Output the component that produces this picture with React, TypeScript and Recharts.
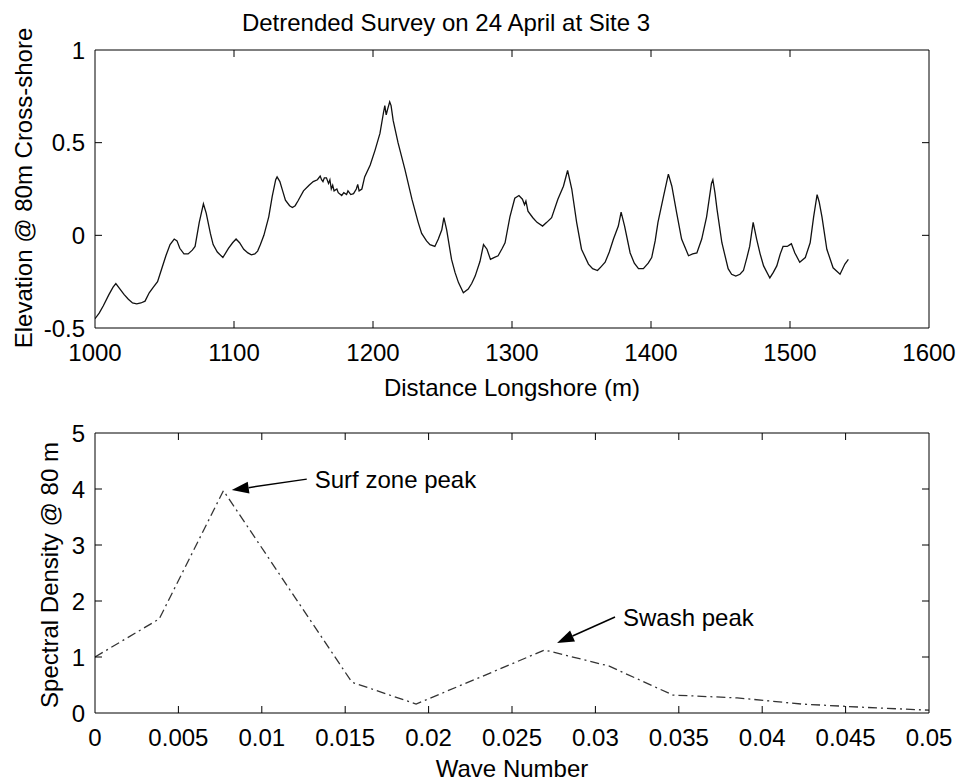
import React from 'react';
import { LineChart, Line, XAxis, YAxis, ReferenceDot } from 'recharts';

const FONT = "'Liberation Sans', Arial, Helvetica, sans-serif";

// ---- Top panel: detrended survey ----
const distance = [
  1000, 1003, 1006, 1010, 1013, 1015, 1018, 1021, 1024, 1027, 1030, 1033, 1036, 1039, 1042, 1045, 1048, 1051, 1054, 1057,
  1059, 1061, 1064, 1067, 1070, 1072, 1075, 1078, 1080, 1083, 1085, 1088, 1092, 1096, 1099, 1101.5, 1104, 1107, 1110, 1112.5,
  1115, 1117, 1119, 1121.5, 1125, 1127.5, 1130, 1131, 1133, 1135, 1137, 1140, 1142, 1144, 1146, 1150, 1154, 1157, 1160, 1162,
  1163, 1164, 1165, 1166.5, 1168, 1169, 1170, 1171, 1172, 1174, 1175, 1177.5, 1179, 1181, 1182, 1184, 1186, 1188, 1189, 1190,
  1192, 1194, 1198, 1201.5, 1205, 1207.5, 1208.5, 1209.5, 1210.5, 1212, 1213, 1214.5, 1218, 1223, 1228, 1232.5, 1235, 1238.5, 1241, 1244.5,
  1247, 1249.5, 1251, 1253, 1256.5, 1259, 1261.5, 1265, 1268.5, 1271, 1273.5, 1277, 1279.5, 1282, 1284.5, 1287, 1290, 1293, 1295, 1298.5,
  1302, 1305, 1307.5, 1309, 1310, 1311.5, 1315, 1318, 1322, 1325, 1328.5, 1333, 1337, 1340, 1343, 1346.5, 1350, 1355, 1358, 1361.5,
  1364, 1367, 1370, 1373, 1376.5, 1378.5, 1381, 1385, 1388, 1391, 1394.5, 1398, 1400.5, 1403, 1405, 1409, 1412.5, 1415, 1418.5, 1422,
  1427, 1430, 1433, 1436.5, 1440, 1443.5, 1444.5, 1446, 1447.5, 1451, 1455.5, 1458, 1461, 1464, 1466.5, 1469, 1471, 1473.5, 1476, 1478.5,
  1481, 1485.5, 1488, 1490.5, 1493, 1495, 1498, 1500, 1501, 1503.5, 1507, 1511, 1514.5, 1517, 1519.5, 1521, 1523, 1526.5, 1531, 1536,
  1539.5, 1542,
];
const elevation = [
  -0.45, -0.42, -0.38, -0.32, -0.28, -0.26, -0.29, -0.32, -0.345, -0.365, -0.37, -0.365, -0.355, -0.31, -0.28, -0.25, -0.18, -0.11, -0.05, -0.02,
  -0.03, -0.07, -0.1, -0.1, -0.08, -0.06, 0.07, 0.17, 0.12, 0.01, -0.05, -0.09, -0.12, -0.07, -0.04, -0.02, -0.04, -0.075, -0.095, -0.105,
  -0.1, -0.085, -0.05, 0.0, 0.1, 0.21, 0.3, 0.315, 0.29, 0.24, 0.19, 0.16, 0.15, 0.16, 0.185, 0.24, 0.27, 0.29, 0.3, 0.32,
  0.3, 0.29, 0.31, 0.31, 0.28, 0.3, 0.25, 0.27, 0.24, 0.25, 0.23, 0.215, 0.23, 0.22, 0.24, 0.22, 0.225, 0.25, 0.275, 0.24,
  0.25, 0.315, 0.38, 0.46, 0.55, 0.66, 0.7, 0.65, 0.68, 0.72, 0.7, 0.62, 0.5, 0.355, 0.195, 0.07, 0.01, -0.03, -0.05, -0.06,
  -0.02, 0.03, 0.095, 0.03, -0.13, -0.2, -0.255, -0.31, -0.29, -0.26, -0.22, -0.14, -0.05, -0.075, -0.13, -0.12, -0.11, -0.07, -0.04, 0.1,
  0.2, 0.215, 0.195, 0.165, 0.185, 0.13, 0.095, 0.07, 0.05, 0.07, 0.095, 0.195, 0.265, 0.35, 0.25, 0.07, -0.075, -0.155, -0.18, -0.19,
  -0.17, -0.145, -0.09, -0.02, 0.05, 0.125, 0.05, -0.095, -0.15, -0.18, -0.18, -0.15, -0.12, -0.03, 0.07, 0.21, 0.33, 0.265, 0.12, -0.02,
  -0.11, -0.1, -0.095, -0.02, 0.1, 0.28, 0.3, 0.23, 0.14, -0.04, -0.18, -0.21, -0.22, -0.21, -0.19, -0.12, -0.06, 0.07, -0.02, -0.1,
  -0.165, -0.23, -0.2, -0.165, -0.1, -0.06, -0.06, -0.05, -0.045, -0.095, -0.145, -0.12, -0.04, 0.1, 0.22, 0.18, 0.1, -0.075, -0.175, -0.21,
  -0.155, -0.13,
];
const distanceTicks = [1000, 1100, 1200, 1300, 1400, 1500, 1600];
const elevationTicks = [-0.5, 0, 0.5, 1];

// ---- Bottom panel: spectrum ----
const waveNumber = [0, 0.00385, 0.0077, 0.01155, 0.0154, 0.01925, 0.0231, 0.02695, 0.0308, 0.03465, 0.0385, 0.04235, 0.0462, 0.05];
const spectralDensity = [1.0, 1.68, 3.97, 2.26, 0.55, 0.16, 0.64, 1.125, 0.84, 0.32, 0.27, 0.16, 0.1, 0.05];
const waveTicks = [0, 0.005, 0.01, 0.015, 0.02, 0.025, 0.03, 0.035, 0.04, 0.045, 0.05];
const densityTicks = [0, 1, 2, 3, 4, 5];

// annotation: arrow tip in data units, tail offset in pixels
const surfPeak = { text: 'Surf zone peak', tip: { x: 0.0082, y: 3.98 }, tail: [75, -11] };
const swashPeak = { text: 'Swash peak', tip: { x: 0.0277, y: 1.25 }, tail: [58, -26] };

const surveyData = distance.map((d, i) => ({ d, e: elevation[i] }));
const spectrumData = waveNumber.map((k, i) => ({ k, s: spectralDensity[i] }));

const TL = 7;
const FS = 24;

type Side = 'bottom' | 'top' | 'left' | 'right';

const makeTick = (side: Side, count: number) => (props: any) => {
  const { x, y, payload, index } = props;
  const inner = index > 0 && index < count - 1;
  let tickLine = null;
  if (inner) {
    if (side === 'bottom') tickLine = <line x1={x} x2={x} y1={y} y2={y - TL} stroke="#000" strokeWidth={1} />;
    if (side === 'top') tickLine = <line x1={x} x2={x} y1={y} y2={y + TL} stroke="#000" strokeWidth={1} />;
    if (side === 'left') tickLine = <line x1={x} x2={x + TL} y1={y} y2={y} stroke="#000" strokeWidth={1} />;
    if (side === 'right') tickLine = <line x1={x} x2={x - TL} y1={y} y2={y} stroke="#000" strokeWidth={1} />;
  }
  let label = null;
  if (side === 'bottom') {
    label = (
      <text x={x} y={y + 33} textAnchor="middle" fontSize={FS} fontFamily={FONT} fill="#000">
        {String(payload.value)}
      </text>
    );
  }
  if (side === 'left') {
    label = (
      <text x={x - 10} y={y + 8.5} textAnchor="end" fontSize={FS} fontFamily={FONT} fill="#000">
        {String(payload.value)}
      </text>
    );
  }
  return (
    <g>
      {tickLine}
      {label}
    </g>
  );
};

const makeArrow = (text: string, tail: number[]) => (props: any) => {
  const { cx, cy } = props;
  if (typeof cx !== 'number' || typeof cy !== 'number' || isNaN(cx) || isNaN(cy)) return <g />;
  const x2 = cx;
  const y2 = cy;
  const x1 = cx + tail[0];
  const y1 = cy + tail[1];
  const dx = x2 - x1;
  const dy = y2 - y1;
  const len = Math.sqrt(dx * dx + dy * dy) || 1;
  const ux = dx / len;
  const uy = dy / len;
  const hl = 17;
  const hw = 6;
  const bx = x2 - ux * hl;
  const by = y2 - uy * hl;
  const px = -uy;
  const py = ux;
  const pts = `${x2},${y2} ${bx + px * hw},${by + py * hw} ${bx - px * hw},${by - py * hw}`;
  return (
    <g>
      <line x1={x1} y1={y1} x2={bx} y2={by} stroke="#000" strokeWidth={1.5} />
      <polygon points={pts} fill="#000" />
      <text x={x1 + 8} y={y1 + 9} fontSize={FS} fontFamily={FONT} fill="#000">
        {text}
      </text>
    </g>
  );
};

const axisCommon = {
  tickSize: 0,
  tickMargin: 0,
  interval: 0 as const,
  axisLine: { stroke: '#000' },
  tickLine: false,
  allowDataOverflow: true,
  type: 'number' as const,
};

export default function App() {
  return (
    <div style={{ position: 'absolute', left: 0, top: 0, width: 959, height: 782, background: '#fff', fontFamily: FONT }}>
      <div style={{ position: 'absolute', left: 0, top: 0 }}>
        <LineChart width={959} height={400} data={surveyData} margin={{ top: 49, right: 29, bottom: 71, left: 94 }}>
          <XAxis xAxisId="b" dataKey="d" domain={[1000, 1600]} ticks={distanceTicks} height={1}
            tick={makeTick('bottom', distanceTicks.length)} {...axisCommon} />
          <XAxis xAxisId="t" dataKey="d" orientation="top" domain={[1000, 1600]} ticks={distanceTicks} height={1}
            tick={makeTick('top', distanceTicks.length)} {...axisCommon} />
          <YAxis yAxisId="l" dataKey="e" domain={[-0.5, 1]} ticks={elevationTicks} width={1}
            tick={makeTick('left', elevationTicks.length)} {...axisCommon} />
          <YAxis yAxisId="r" dataKey="e" orientation="right" domain={[-0.5, 1]} ticks={elevationTicks} width={1}
            tick={makeTick('right', elevationTicks.length)} {...axisCommon} />
          <Line xAxisId="b" yAxisId="l" type="linear" dataKey="e" stroke="#111" strokeWidth={1.3} dot={false}
            activeDot={false} isAnimationActive={false} />
        </LineChart>
      </div>
      <div style={{ position: 'absolute', left: 0, top: 400 }}>
        <LineChart width={959} height={382} data={spectrumData} margin={{ top: 32, right: 29, bottom: 68, left: 94 }}>
          <XAxis xAxisId="b" dataKey="k" domain={[0, 0.05]} ticks={waveTicks} height={1}
            tick={makeTick('bottom', waveTicks.length)} {...axisCommon} />
          <XAxis xAxisId="t" dataKey="k" orientation="top" domain={[0, 0.05]} ticks={waveTicks} height={1}
            tick={makeTick('top', waveTicks.length)} {...axisCommon} />
          <YAxis yAxisId="l" dataKey="s" domain={[0, 5]} ticks={densityTicks} width={1}
            tick={makeTick('left', densityTicks.length)} {...axisCommon} />
          <YAxis yAxisId="r" dataKey="s" orientation="right" domain={[0, 5]} ticks={densityTicks} width={1}
            tick={makeTick('right', densityTicks.length)} {...axisCommon} />
          <Line xAxisId="b" yAxisId="l" type="linear" dataKey="s" stroke="#333" strokeWidth={1.3} dot={false}
            activeDot={false} strokeDasharray="9 4 2 4" isAnimationActive={false} />
          <ReferenceDot xAxisId="b" yAxisId="l" x={surfPeak.tip.x} y={surfPeak.tip.y} ifOverflow="visible"
            shape={makeArrow(surfPeak.text, surfPeak.tail)} />
          <ReferenceDot xAxisId="b" yAxisId="l" x={swashPeak.tip.x} y={swashPeak.tip.y} ifOverflow="visible"
            shape={makeArrow(swashPeak.text, swashPeak.tail)} />
        </LineChart>
      </div>
      <svg width={959} height={782} style={{ position: 'absolute', left: 0, top: 0, pointerEvents: 'none' }}>
        <text x={446} y={31} textAnchor="middle" fontSize={FS} fontFamily={FONT} fill="#000">
          Detrended Survey on 24 April at Site 3
        </text>
        <text x={512} y={396} textAnchor="middle" fontSize={FS} fontFamily={FONT} fill="#000">
          Distance Longshore (m)
        </text>
        <text x={512} y={777} textAnchor="middle" fontSize={FS} fontFamily={FONT} fill="#000">
          Wave Number
        </text>
        <text transform="translate(32,188) rotate(-90)" textAnchor="middle" fontSize={FS} fontFamily={FONT} fill="#000">
          Elevation @ 80m Cross-shore
        </text>
        <text transform="translate(58,575) rotate(-90)" textAnchor="middle" fontSize={FS} fontFamily={FONT} fill="#000">
          Spectral Density @ 80 m
        </text>
      </svg>
    </div>
  );
}
